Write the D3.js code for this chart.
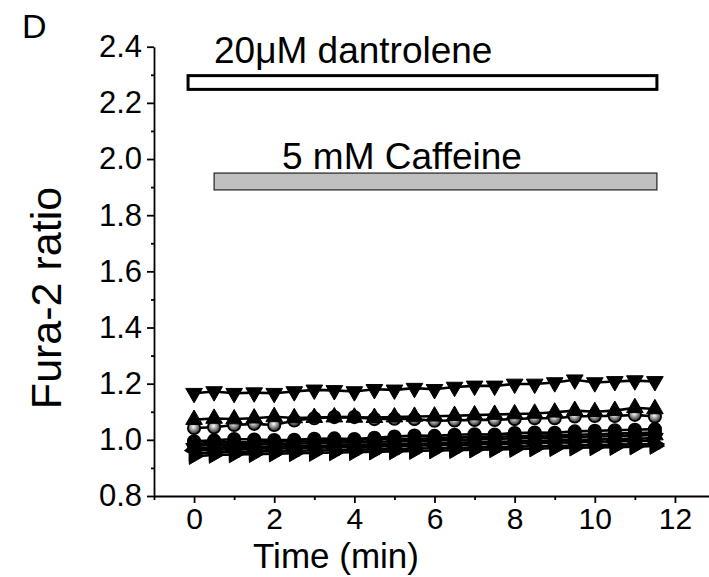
<!DOCTYPE html>
<html>
<head>
<meta charset="utf-8">
<script src="https://cdn.jsdelivr.net/npm/d3@7"></script>
<style>
  body { margin: 0; background: #fff; }
  svg { display: block; font-family: 'Liberation Sans', Arial, sans-serif; }
</style>
</head>
<body>
<svg width="709" height="577"></svg>
<script>
  // time points (min)
  const times = [0, 0.5, 1, 1.5, 2, 2.5, 3, 3.5, 4, 4.5, 5, 5.5,
    6, 6.5, 7, 7.5, 8, 8.5, 9, 9.5, 10, 10.5, 11, 11.5];

  // fura-2 ratio traces, one per cell
  const cellDown1 = [1.166, 1.172, 1.166, 1.168, 1.166, 1.172, 1.178, 1.176, 1.172, 1.180, 1.178, 1.184,
    1.180, 1.188, 1.192, 1.192, 1.199, 1.199, 1.204, 1.214, 1.204, 1.208, 1.211, 1.208];
  const cellUp1 = [1.072, 1.076, 1.074, 1.077, 1.082, 1.078, 1.079, 1.081, 1.080, 1.079, 1.081, 1.083,
    1.084, 1.086, 1.088, 1.090, 1.092, 1.094, 1.098, 1.104, 1.100, 1.104, 1.114, 1.110];
  const cellGray = [1.042, 1.045, 1.053, 1.057, 1.053, 1.069, 1.077, 1.081, 1.081, 1.074, 1.075, 1.074,
    1.068, 1.069, 1.071, 1.071, 1.074, 1.077, 1.077, 1.083, 1.085, 1.085, 1.089, 1.083];
  const cellCircle1 = [0.995, 0.998, 1.003, 1.001, 0.999, 1.000, 1.004, 1.005, 1.003, 1.007, 1.012, 1.015,
    1.014, 1.018, 1.020, 1.019, 1.024, 1.026, 1.025, 1.030, 1.032, 1.034, 1.036, 1.038];
  const cellCircle2 = [0.985, 0.990, 0.992, 0.990, 0.993, 0.995, 0.994, 0.998, 1.000, 1.002, 1.004, 1.003,
    1.006, 1.008, 1.010, 1.011, 1.013, 1.015, 1.016, 1.018, 1.020, 1.022, 1.024, 1.026];
  const cellUp2 = [0.978, 0.982, 0.984, 0.983, 0.985, 0.986, 0.988, 0.990, 0.991, 0.993, 0.994, 0.996,
    0.998, 1.000, 1.001, 1.003, 1.005, 1.006, 1.008, 1.010, 1.012, 1.013, 1.015, 1.017];
  const cellDown2 = [0.970, 0.972, 0.975, 0.974, 0.976, 0.978, 0.979, 0.980, 0.982, 0.984, 0.985, 0.986,
    0.988, 0.990, 0.991, 0.993, 0.994, 0.996, 0.998, 1.000, 1.001, 1.003, 1.004, 1.006];
  const cellLeft = [0.962, 0.965, 0.966, 0.968, 0.969, 0.970, 0.972, 0.973, 0.975, 0.976, 0.978, 0.979,
    0.981, 0.982, 0.984, 0.985, 0.987, 0.988, 0.990, 0.991, 0.993, 0.994, 0.996, 0.997];
  const cellRight1 = [0.952, 0.955, 0.957, 0.958, 0.960, 0.961, 0.962, 0.963, 0.965, 0.966, 0.967, 0.969,
    0.970, 0.971, 0.973, 0.974, 0.976, 0.977, 0.978, 0.980, 0.981, 0.983, 0.984, 0.985];
  const cellRight2 = [0.942, 0.946, 0.948, 0.949, 0.951, 0.952, 0.953, 0.955, 0.956, 0.958, 0.959, 0.960,
    0.962, 0.963, 0.965, 0.966, 0.967, 0.969, 0.970, 0.972, 0.973, 0.974, 0.976, 0.978];

  // drug application bars: [start, end] in min, [low, high] in ratio
  const dantroleneBar = {label: '20\u03bcM dantrolene', t: [-0.15, 11.55], v: [2.248, 2.297]};
  const caffeineBar = {label: '5 mM Caffeine', t: [0.5, 11.55], v: [1.89, 1.95]};

  const yTicks = [0.8, 1.0, 1.2, 1.4, 1.6, 1.8, 2.0, 2.2, 2.4];
  const yMinorTicks = [0.9, 1.1, 1.3, 1.5, 1.7, 1.9, 2.1, 2.3];
  const xTicks = [0, 2, 4, 6, 8, 10, 12];
  const xMinorTicks = [-1, 1, 3, 5, 7, 9, 11];

  const series = [
    {data: cellRight2, shape: 'right', fill: '#000'},
    {data: cellRight1, shape: 'right', fill: '#000'},
    {data: cellLeft, shape: 'left', fill: '#000'},
    {data: cellDown2, shape: 'down', fill: '#000'},
    {data: cellUp2, shape: 'up', fill: '#000'},
    {data: cellCircle2, shape: 'circle', fill: '#000'},
    {data: cellCircle1, shape: 'circle', fill: '#000'},
    {data: cellGray, shape: 'circle', fill: 'url(#grayBall)'},
    {data: cellUp1, shape: 'up', fill: '#000'},
    {data: cellDown1, shape: 'down', fill: '#000'},
  ];

  const svg = d3.select('svg');

  const defs = svg.append('defs');
  const grad = defs.append('radialGradient')
    .attr('id', 'grayBall')
    .attr('cx', '45%').attr('cy', '40%').attr('r', '60%');
  grad.append('stop').attr('offset', '0%').attr('stop-color', '#ffffff');
  grad.append('stop').attr('offset', '40%').attr('stop-color', '#a8a8a8');
  grad.append('stop').attr('offset', '100%').attr('stop-color', '#202020');

  const x = d3.scaleLinear().domain([-1, 12.85]).range([154, 709]);
  const y = d3.scaleLinear().domain([0.8, 2.4]).range([496, 46.7]);

  // y axis
  const yAxis = svg.append('g')
    .attr('transform', 'translate(154,0)')
    .call(d3.axisLeft(y).tickValues(yTicks).tickFormat(d3.format('.1f'))
      .tickSize(7).tickPadding(5).tickSizeOuter(0));
  yAxis.selectAll('.tick text').attr('font-size', 31).attr('font-family', null).attr('fill', '#000');

  svg.append('g')
    .attr('transform', 'translate(154,0)')
    .call(d3.axisLeft(y).tickValues(yMinorTicks).tickSize(3).tickFormat('').tickSizeOuter(0))
    .select('.domain').remove();

  // x axis
  const xAxis = svg.append('g')
    .attr('transform', 'translate(0,496)')
    .call(d3.axisBottom(x).tickValues(xTicks).tickSize(7).tickPadding(5).tickSizeOuter(0));
  xAxis.selectAll('.tick text').attr('font-size', 30).attr('font-family', null).attr('fill', '#000');

  svg.append('g')
    .attr('transform', 'translate(0,496)')
    .call(d3.axisBottom(x).tickValues(xMinorTicks).tickSize(4).tickFormat('').tickSizeOuter(0))
    .select('.domain').remove();

  svg.selectAll('.domain, .tick line').attr('stroke', '#000').attr('stroke-width', 1.8);

  // axis titles
  svg.append('text')
    .attr('x', 336).attr('y', 568)
    .attr('text-anchor', 'middle')
    .attr('font-size', 35)
    .text('Time (min)');

  svg.append('text')
    .attr('transform', 'translate(61,298) rotate(-90)')
    .attr('text-anchor', 'middle')
    .attr('font-size', 43)
    .text('Fura-2 ratio');

  svg.append('text')
    .attr('x', 22).attr('y', 38)
    .attr('font-size', 34)
    .text('D');

  // drug bars
  svg.append('rect')
    .attr('x', x(dantroleneBar.t[0]))
    .attr('y', y(dantroleneBar.v[1]))
    .attr('width', x(dantroleneBar.t[1]) - x(dantroleneBar.t[0]))
    .attr('height', y(dantroleneBar.v[0]) - y(dantroleneBar.v[1]))
    .attr('fill', '#fff')
    .attr('stroke', '#000')
    .attr('stroke-width', 3);

  svg.append('text')
    .attr('x', 214).attr('y', 63)
    .attr('font-size', 37)
    .text(dantroleneBar.label);

  svg.append('rect')
    .attr('x', x(caffeineBar.t[0]))
    .attr('y', y(caffeineBar.v[1]))
    .attr('width', x(caffeineBar.t[1]) - x(caffeineBar.t[0]))
    .attr('height', y(caffeineBar.v[0]) - y(caffeineBar.v[1]))
    .attr('fill', '#c0c0c0')
    .attr('stroke', '#222')
    .attr('stroke-width', 1.2);

  svg.append('text')
    .attr('x', 282).attr('y', 169)
    .attr('font-size', 37)
    .text(caffeineBar.label);

  // traces
  const line = d3.line()
    .x((d, i) => x(times[i]))
    .y((d) => y(d));

  const rotation = {up: 0, right: 90, down: 180, left: 270};

  series.forEach((s) => {
    const g = svg.append('g');
    g.append('path')
      .attr('d', line(s.data))
      .attr('fill', 'none')
      .attr('stroke', '#000')
      .attr('stroke-width', 2.6);

    const sym = s.shape === 'circle'
      ? d3.symbol(d3.symbolCircle, 120)
      : d3.symbol(d3.symbolTriangle, 120);

    g.selectAll('path.marker')
      .data(s.data)
      .enter().append('path')
      .attr('class', 'marker')
      .attr('d', sym)
      .attr('transform', (d, i) => 'translate(' + x(times[i]) + ',' + y(d) + ')' +
        (s.shape === 'circle' ? '' : ' rotate(' + rotation[s.shape] + ')'))
      .attr('fill', s.fill)
      .attr('stroke', '#000')
      .attr('stroke-width', s.shape === 'circle' ? 1.8 : 1);
  });
</script>
</body>
</html>
